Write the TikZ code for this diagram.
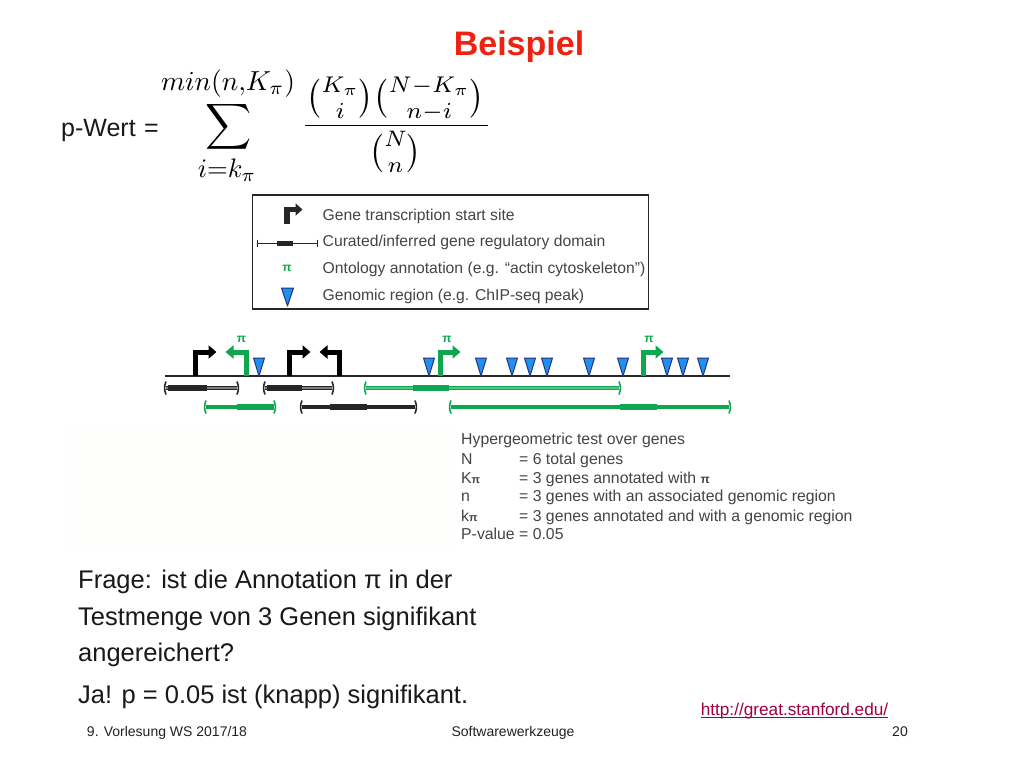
\documentclass[tikz,border=0pt]{standalone}
\usepackage{amsmath}
\usepackage{fontspec}
\setmainfont{Liberation Sans}
\usetikzlibrary{arrows.meta}
\definecolor{gnGreen}{HTML}{0FA650}
\definecolor{gnLight}{HTML}{55C484}
\definecolor{txtGray}{HTML}{444444}
\definecolor{triBlue}{HTML}{1E90EE}
\definecolor{triEdge}{HTML}{27337F}
\definecolor{titleRed}{HTML}{EE2211}
\definecolor{linkRed}{HTML}{A00040}
\definecolor{footGray}{HTML}{222222}
\definecolor{boxFill}{HTML}{FEFEFD}
\tikzset{
  x=1pt,y=-1pt,
  tss/.style={line width=5pt,-{Triangle[length=8pt,width=13pt]}},
  base/.style={line width=1.4pt,draw=black!85},
  tri/.style={fill=triBlue,draw=triEdge,line width=1pt,line join=round},
  bodytxt/.style={anchor=base west,inner sep=0pt,font=\fontsize{25.5}{29}\selectfont,text=black!90},
  foot/.style={inner sep=0pt,anchor=base,font=\fontsize{14}{16}\selectfont,text=footGray},
  legtxt/.style={anchor=base west,inner sep=0pt,font=\fontsize{15.7}{18}\selectfont,text=txtGray},
  tabtxt/.style={anchor=base west,inner sep=0pt,font=\fontsize{15.8}{18}\selectfont,text=txtGray},
  pisym/.style={inner sep=0pt,text=gnGreen,font=\bfseries\fontsize{12}{13}\selectfont},
}
\newcommand{\gtri}[1]{\draw[tri] (#1-5.5,358) -- (#1+5.5,358) -- (#1,376) -- cycle;}
\newcommand{\brackets}[4]{%
 \draw[#4,line width=1.6pt] (#1,#3-6.5) to[bend right=22] (#1,#3+6.5);
 \draw[#4,line width=1.6pt] (#2,#3-6.5) to[bend left=22] (#2,#3+6.5);}
% single line domain: left, right, thick left, thick right, y, colour
\newcommand{\domain}[6]{%
 \draw[#6,line width=3.4pt] (#1,#5) -- (#2,#5);
 \draw[#6,line width=6.5pt] (#3,#5) -- (#4,#5);
 \brackets{#1}{#2}{#5}{#6}}
% upper row: the thin stretch has a lighter centre
\newcommand{\domainD}[7]{%
 \draw[#6,line width=4pt] (#1,#5) -- (#2,#5);
 \draw[#7,line width=1.2pt] (#1,#5) -- (#2,#5);
 \draw[#6,line width=6.5pt] (#3,#5) -- (#4,#5);
 \brackets{#1}{#2}{#5}{#6}}
\begin{document}
\begin{tikzpicture}
\useasboundingbox (0,0) rectangle (1024,768);
\fill[white] (0,0) rectangle (1024,768);
\fill[boxFill] (67,426) rectangle (453,553);
\node[inner sep=0pt,text=titleRed,font=\bfseries\fontsize{34}{38}\selectfont,anchor=base] (title) at (519,56) {Beispiel};
\node[anchor=base west,inner sep=0pt,font=\fontsize{25}{29}\selectfont,text=black!90] (pw) at (61,136) {p-Wert\hspace{1.5pt} =};
\node[inner sep=0pt] (upper) at (228,84) {\scalebox{2.75}{$min(n{,}K_\pi)$}};
\node[inner sep=0pt] (sum) at (229,127) {\scalebox{3.2}{$\displaystyle\sum$}};
\node[inner sep=0pt] (lower) at (227,170) {\scalebox{2.67}{$i{=}k_\pi$}};
\node[inner sep=0pt] (num) at (395.5,99) {\scalebox{3.25}{$\binom{K_\pi}{i}\binom{N{-}K_\pi}{n{-}i}$}};
\node[inner sep=0pt] (den) at (395.5,152) {\scalebox{3.2}{$\binom{N}{n}$}};
\draw[line width=1.3pt] (305,125.7) -- (488,125.7);
% legend
\draw[line width=1.5pt,draw=black!85] (252.7,195) rectangle (648.7,309);
\draw[black!85,line width=5.4pt,-{Triangle[length=7pt,width=12pt]}] (287,224) -- (287,209.5) -- (302.5,209.5);
\draw[black!85,line width=1pt] (257,243) -- (318,243);
\draw[black!85,line width=5pt] (277,243) -- (293,243);
\draw[black!85,line width=0.9pt] (257.5,239.5) -- (257.5,246.5);
\draw[black!85,line width=0.9pt] (317.5,239.5) -- (317.5,246.5);
\node[pisym] (lp) at (287,268) {π};
\draw[tri] (281.5,288) -- (293.5,288) -- (287.5,306) -- cycle;
\node[legtxt] at (322.5,220) {Gene transcription start site};
\node[legtxt] at (322.5,246.5) {Curated/inferred gene regulatory domain};
\node[legtxt] at (322.5,273) {Ontology annotation (e.g. “actin cytoskeleton”)};
\node[legtxt] at (322.5,300) {Genomic region (e.g. ChIP-seq peak)};
% track
\draw[base] (165,376) -- (730,376);
\foreach \x in {259,429,481,512,530,547,589,623,667,683,703}{\gtri{\x}}
\draw[tss,black] (195.7,376) -- (195.7,352) -- (216.5,352);
\draw[tss,gnGreen] (246,376) -- (246,352) -- (225.5,352);
\draw[tss,black] (289.5,376) -- (289.5,352) -- (310.5,352);
\draw[tss,black] (339,376) -- (339,352) -- (319.5,352);
\draw[tss,gnGreen] (440,376) -- (440,352) -- (460.5,352);
\draw[tss,gnGreen] (643,376) -- (643,352) -- (663.5,352);
\node[pisym] at (241.5,339) {π};
\node[pisym] at (447,339) {π};
\node[pisym] at (649,339) {π};
\domainD{166}{237}{168}{207}{388}{black!85}{black!50}
\domainD{265}{332}{267}{302}{388}{black!85}{black!50}
\domainD{366}{619}{413}{449}{388}{gnGreen}{gnLight}
\domain{206}{274}{237}{274}{407}{gnGreen}
\domain{302}{415}{330}{367}{407}{black!85}
\domain{451}{729}{620}{657}{407}{gnGreen}
% table
\node[tabtxt] at (461,444.5) {Hypergeometric test over genes};
\node[tabtxt] at (461,464) {N};
\node[tabtxt] at (461,483) {K{\bfseries\fontsize{11}{12}\selectfont π}};
\node[tabtxt] at (461,501) {n};
\node[tabtxt] at (461,521) {k{\bfseries\fontsize{11}{12}\selectfont π}};
\node[tabtxt] at (461,539) {P-value};
\node[tabtxt] at (519,464) {= 6 total genes};
\node[tabtxt] at (519,483) {= 3 genes annotated with {\bfseries\fontsize{12}{13}\selectfont π}};
\node[tabtxt] at (519,501) {= 3 genes with an associated genomic region};
\node[tabtxt] at (519,521) {= 3 genes annotated and with a genomic region};
\node[tabtxt] at (519,539) {= 0.05};
% body
\node[bodytxt] at (78,588) {Frage: ist die Annotation π in der};
\node[bodytxt] at (78,625) {Testmenge von 3 Genen signifikant};
\node[bodytxt] at (78,661) {angereichert?};
\node[bodytxt] at (78,703) {Ja! p = 0.05 ist (knapp) signifikant.};
\node[inner sep=0pt,anchor=base,font=\fontsize{17.2}{20}\selectfont,text=linkRed] (link) at (794.5,715) {http://great.stanford.edu/};
\draw[linkRed,line width=0.9pt] (701,717.5) -- (888,717.5);
\node[foot] at (167,736) {9. Vorlesung WS 2017/18};
\node[foot] at (513,736) {Softwarewerkzeuge};
\node[foot] at (900,736) {20};
\end{tikzpicture}
\end{document}
